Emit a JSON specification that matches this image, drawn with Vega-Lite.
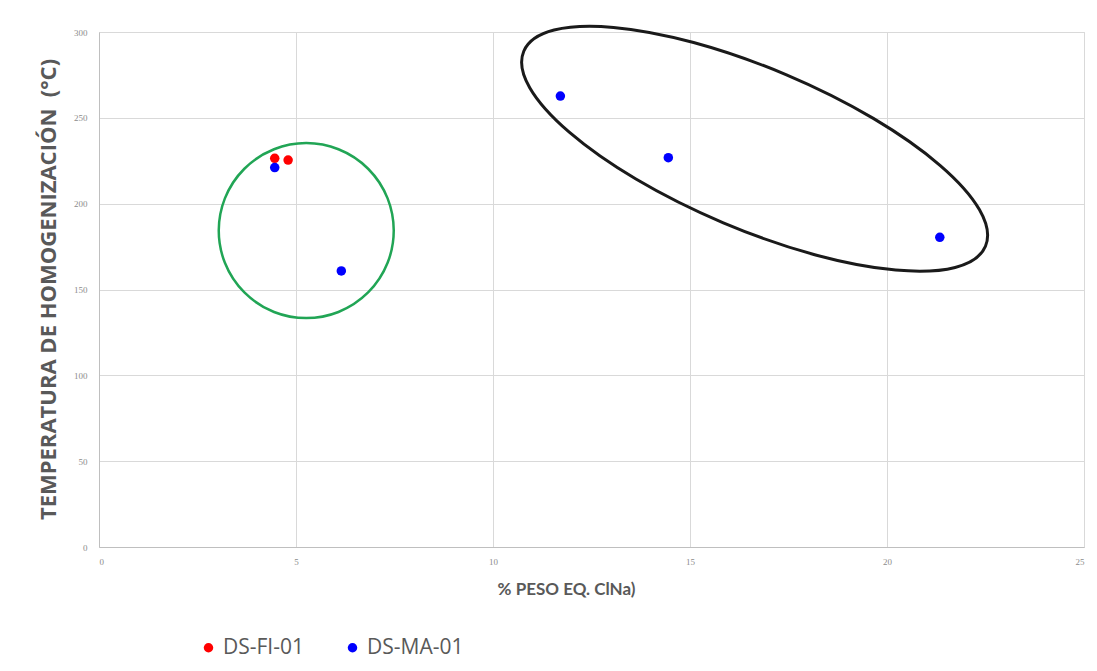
{
  "$schema": "https://vega.github.io/schema/vega-lite/v6.json",
  "width": 985,
  "height": 515,
  "autosize": {"type": "none"},
  "padding": {"left": 99, "top": 32, "right": 13, "bottom": 124},
  "background": "white",
  "config": {
    "view": {"stroke": "#d9d9d9", "strokeWidth": 1},
    "font": "Lato"
  },
  "datasets": {
    "pts": [
      {"serie": "DS-FI-01", "clna": 4.46, "temp": 226.4},
      {"serie": "DS-FI-01", "clna": 4.8, "temp": 225.4},
      {"serie": "DS-MA-01", "clna": 4.46, "temp": 221.0},
      {"serie": "DS-MA-01", "clna": 6.15, "temp": 160.8},
      {"serie": "DS-MA-01", "clna": 11.71, "temp": 262.7},
      {"serie": "DS-MA-01", "clna": 14.45, "temp": 226.8},
      {"serie": "DS-MA-01", "clna": 21.34, "temp": 180.4}
    ],
    "grupo1": [{"clna": 5.26, "temp": 184.3}],
    "grupo2": [{"clna": 16.64, "temp": 232.0}]
  },
  "encoding": {
    "x": {
      "field": "clna", "type": "quantitative",
      "scale": {"domain": [0, 25], "nice": false},
      "axis": {
        "values": [0, 5, 10, 15, 20, 25],
        "title": "% PESO EQ. ClNa)",
        "titleFont": "Lato", "titleFontSize": 17, "titleFontWeight": "bold", "titleColor": "#595959",
        "titleX": 467, "titleY": 42, "titleBaseline": "middle",
        "labelFont": "Liberation Serif", "labelFontSize": 9, "labelColor": "#8c8c8c",
        "labelPadding": 10, "ticks": false,
        "domainColor": "#bfbfbf", "gridColor": "#d9d9d9", "grid": true
      }
    },
    "y": {
      "field": "temp", "type": "quantitative",
      "scale": {"domain": [0, 300], "nice": false},
      "axis": {
        "values": [0, 50, 100, 150, 200, 250, 300],
        "title": "TEMPERATURA DE HOMOGENIZACIÓN\u00a0 (°C)",
        "titleFont": "Open Sans", "titleFontSize": 22, "titleFontWeight": "bold", "titleColor": "#595959",
        "titleX": -51, "titleY": 257, "titleAngle": -90, "titleAlign": "center", "titleBaseline": "middle",
        "labelFont": "Liberation Serif", "labelFontSize": 9, "labelColor": "#8c8c8c",
        "labelPadding": 12, "ticks": false,
        "domainColor": "#bfbfbf", "gridColor": "#d9d9d9", "grid": true
      }
    }
  },
  "layer": [
    {
      "data": {"name": "grupo1"},
      "mark": {"type": "point", "shape": "circle", "filled": false, "size": 30625, "stroke": "#21a555", "strokeWidth": 2.5, "opacity": 1}
    },
    {
      "data": {"name": "grupo2"},
      "mark": {"type": "point", "shape": "M -1 0 A 1 0.321 0 1 1 1 0 A 1 0.321 0 1 1 -1 0 Z", "filled": false, "size": 251201, "angle": 22.9, "stroke": "#1a1a1a", "strokeWidth": 3, "opacity": 1}
    },
    {
      "data": {"name": "pts"},
      "mark": {"type": "point", "shape": "circle", "filled": true, "size": 90, "opacity": 1},
      "encoding": {
        "color": {
          "field": "serie", "type": "nominal",
          "scale": {"domain": ["DS-FI-01", "DS-MA-01"], "range": ["#ff0000", "#0000ff"]},
          "legend": {
            "title": null, "orient": "none", "legendX": 99, "legendY": 605,
            "direction": "horizontal", "columns": 2, "columnPadding": 38,
            "symbolType": "circle", "symbolSize": 90, "symbolStrokeWidth": 0,
            "labelFont": "Open Sans", "labelFontSize": 21, "labelColor": "#595959", "labelOffset": 4
          }
        }
      }
    }
  ]
}
